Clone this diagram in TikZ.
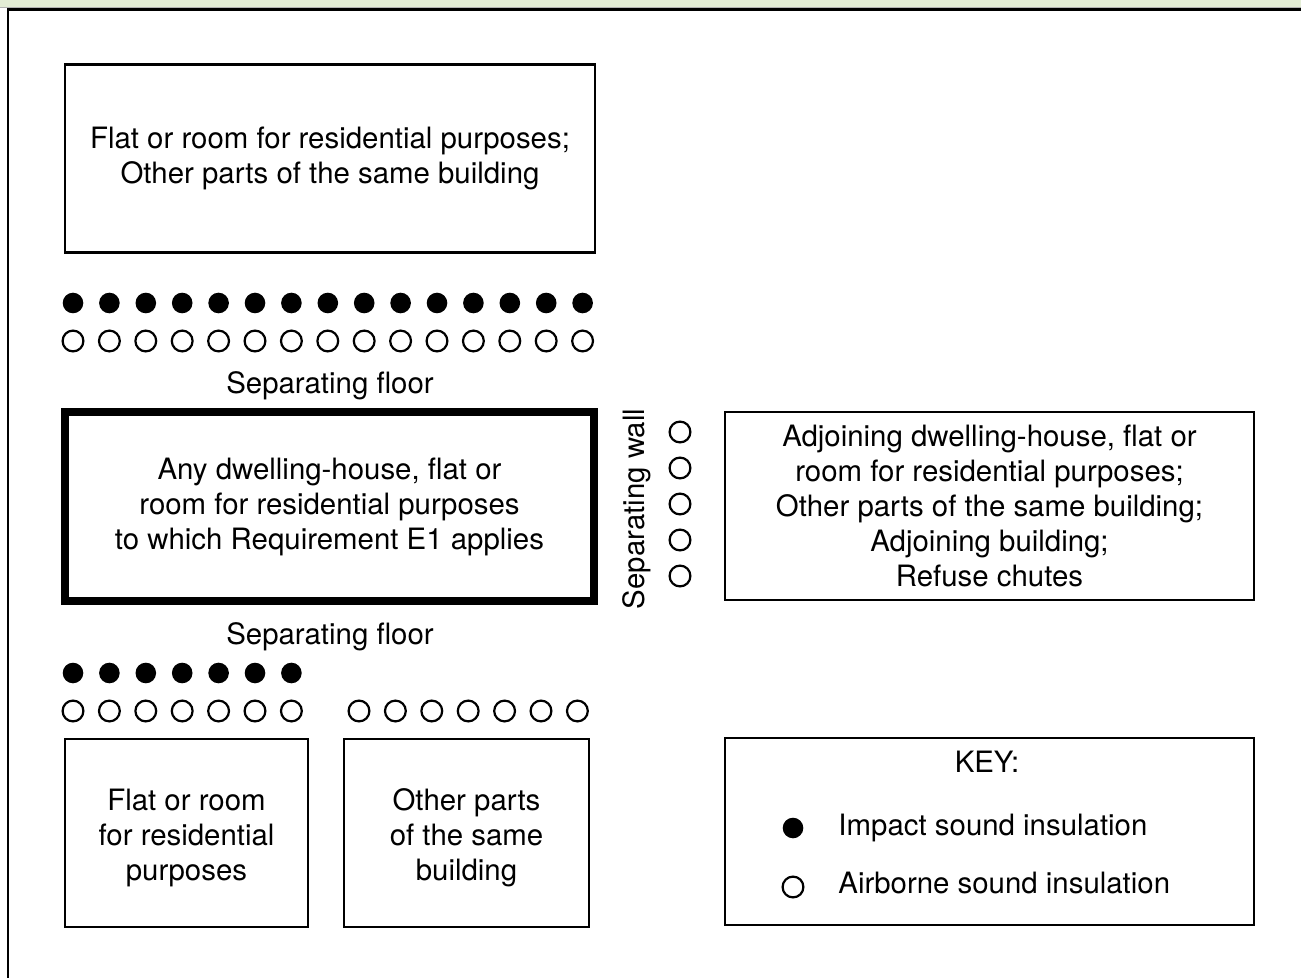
\documentclass[tikz,border=0pt]{standalone}
\usepackage{fontspec}
\setmainfont{TeX Gyre Heros}
\usepackage{tikz}
\usetikzlibrary{positioning}
\definecolor{bandgreen}{RGB}{227,237,213}

\begin{document}
\begin{tikzpicture}[x=0.5pt,y=-0.5pt]
\tikzstyle{every node}=[font=\fontsize{14.7}{17.5}\selectfont]
\tikzstyle{room}=[rectangle,draw,line width=1.15pt,align=center,inner sep=0pt]
\tikzstyle{mainroom}=[room,line width=4pt]
\tikzstyle{impact}=[circle,fill=black,inner sep=0pt,minimum size=10.3pt]
\tikzstyle{airborne}=[circle,draw,line width=1.1pt,inner sep=0pt,minimum size=10.4pt]
\tikzstyle{lbl}=[inner sep=0pt,anchor=base]

\useasboundingbox (0,0) rectangle (1301,978);
\fill[bandgreen] (0,0) rectangle (1301,7.5);
\draw[gray!60,line width=0.5pt] (0,7.5) -- (1301,7.5);
\draw[line width=1.15pt] (8.3,978) -- (8.3,9.5) -- (1301,9.5);

% rooms
\node[room,minimum width=265pt,minimum height=94pt] (upper) at (330,158.5)
	{Flat or room for residential purposes;\\Other parts of the same building};
\node[mainroom,minimum width=264.5pt,minimum height=94.5pt] (main) at (329.5,506.5)
	{Any dwelling-house, flat or\\room for residential purposes\\to which Requirement E1 applies};
\node[room,minimum width=121.5pt,minimum height=94pt,
	label={[align=center,yshift=-2.5pt]center:Flat or room\\for residential\\purposes}] (lowflat) at (186.5,833) {};
\node[room,minimum width=122.5pt,minimum height=94pt,
	label={[align=center,yshift=-2.5pt]center:Other parts\\of the same\\building}] (lowother) at (466.5,833) {};
\node[room,minimum width=264.5pt,minimum height=94pt] (adjoining) at (989.5,506)
	{Adjoining dwelling-house, flat or\\room for residential purposes;\\Other parts of the same building;\\Adjoining building;\\Refuse chutes};
\node[room,minimum width=264.5pt,minimum height=93.5pt] (key) at (989.5,831.5) {};

% separating floors and wall
\foreach \i in {0,...,14} \node[impact] (ti\i) at (73+36.4*\i,303) {};
\foreach \i in {0,...,14} \node[airborne] (ta\i) at (73+36.4*\i,341) {};
\node[lbl] (floorup) at (330,394) {Separating floor};
\node[lbl] (floorlow) at (330,644) {Separating floor};
\foreach \i in {0,...,6} \node[impact] (bi\i) at (73+36.4*\i,673) {};
\foreach \i in {0,...,6} \node[airborne] (ba\i) at (73+36.4*\i,711) {};
\foreach \i in {0,...,6} \node[airborne] (oa\i) at (359+36.4*\i,711) {};
\node[rotate=90,inner sep=0pt] (wall) at (637,509) {Separating wall};
\foreach \i in {0,...,4} \node[airborne] (wa\i) at (680,432+36*\i) {};

% key
\node[lbl] (keytitle) at (987,772) {KEY:};
\node[impact] (keyimpact) at (793,828) {};
\node[lbl,anchor=base west] (keyimpacttext) at (838,835) {Impact sound insulation};
\node[airborne] (keyair) at (793,887) {};
\node[lbl,anchor=base west] (keyairtext) at (838,893) {Airborne sound insulation};
\end{tikzpicture}
\end{document}
